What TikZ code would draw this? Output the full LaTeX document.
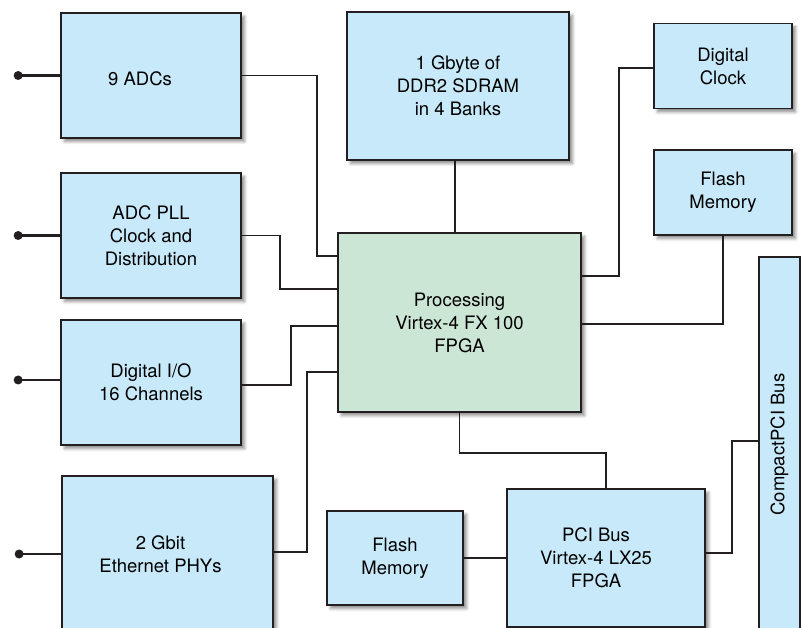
\documentclass[tikz,border=0pt]{standalone}
\usepackage{fontspec}
\setmainfont{TeX Gyre Heros}
\usetikzlibrary{shadows.blur}
\definecolor{boxblue}{HTML}{C7E9F9}
\definecolor{boxgreen}{HTML}{CCE6D6}
\definecolor{edge}{HTML}{231F20}
\tikzstyle{caption} = [align=center,
                       font=\fontsize{18.5}{23}\selectfont]
\tikzstyle{block} = [rectangle,
                     caption,
                     draw=edge,
                     line width=1.7pt,
                     fill=boxblue,
                     inner sep=0pt,
                     blur shadow={shadow xshift=3.5pt, shadow yshift=-3.5pt,
                                  shadow blur radius=3pt, shadow opacity=45}]
\tikzstyle{fpga} = [block,
                    fill=boxgreen]
\tikzstyle{wire} = [draw=edge,
                    line width=1.6pt]
\tikzstyle{bus} = [draw=edge,
                   line width=2.8pt]

\begin{document}
\begin{tikzpicture}[x=1pt, y=-1pt]
    \useasboundingbox (0,0) rectangle (801,628);

    \node (adc)    [block, minimum width=180pt, minimum height=125pt,
                    label={[caption, xshift=-11pt, yshift=-3pt]center:9 ADCs}]
                   at (151,75.5)  {};
    \node (pll)    [block, minimum width=180pt, minimum height=125pt] at (151,235.5) {ADC PLL\\Clock and\\Distribution};
    \node (dio)    [block, minimum width=180pt, minimum height=125pt] at (151,382.5) {Digital I/O\\16 Channels};
    \node (eth)    [block, minimum width=211pt, minimum height=156pt,
                    label={[caption, xshift=-7pt]center:2 Gbit\\Ethernet PHYs}]
                   at (167.5,554) {};
    \node (ddr)    [block, minimum width=222pt, minimum height=148pt] at (458,86)    {1 Gbyte of\\DDR2 SDRAM\\in 4 Banks};
    \node (proc)   [fpga,  minimum width=243pt, minimum height=179pt] at (459.5,322.5) {Processing\\Virtex-4 FX 100\\FPGA};
    \node (dclk)   [block, minimum width=138pt, minimum height=85pt]  at (723,66)    {Digital\\Clock};
    \node (flash1) [block, minimum width=138pt, minimum height=85pt]  at (723,192.5) {Flash\\Memory};
    \node (flash2) [block, minimum width=136pt, minimum height=94pt]  at (395,558)   {Flash\\Memory};
    \node (pci)    [block, minimum width=198pt, minimum height=138pt,
                    label={[caption, xshift=-10pt]center:PCI Bus\\Virtex-4 LX25\\FPGA}]
                   at (606,558) {};
    \node (cpci)   [block, minimum width=41pt,  minimum height=375pt,
                    label={[caption, rotate=90]center:CompactPCI Bus}]
                   at (779.5,444.5) {};

    % inputs on the left
    \draw [bus] (adc.west) -- ++(-42,0) coordinate (in1);
    \draw [bus] (pll.west) -- ++(-42,0) coordinate (in2);
    \draw [bus] ([yshift=2.5pt]dio.west) -- ++(-42,0) coordinate (in3);
    \draw [bus] (eth.west) -- ++(-42,0) coordinate (in4);
    \fill [edge] (in1) circle (4.5pt);
    \fill [edge] (in2) circle (4.5pt);
    \fill [edge] (in3) circle (4.5pt);
    \fill [edge] (in4) circle (4.5pt);

    % links into the processing FPGA
    \draw [wire] (adc.east) -- ++(75,0) |- ([yshift=-24pt]proc.north west);
    \draw [wire] (pll.east) -- ++(38,0) |- ([yshift=-57pt]proc.north west);
    \draw [wire] ([yshift=-2.5pt]dio.east) -- ++(49,0) |- ([yshift=-94pt]proc.north west);
    \draw [wire] ([yshift=2pt]eth.east) -- ++(33,0) |- ([yshift=-140pt]proc.north west);
    \draw [bus]  ([xshift=-3pt]ddr.south) -- ([xshift=-3pt]ddr.south |- proc.north);

    \draw [wire] ([yshift=-44pt]proc.north east) -- ++(37,0) |- ([yshift=-2pt]dclk.west);
    \draw [wire] (flash1.south) |- ([yshift=-92pt]proc.north east);
    \draw [wire] (proc.south) -- ++(0,40) -| (pci.north);

    \draw [bus]  (flash2.east) -- (pci.west);
    \draw [wire] ([yshift=5pt]pci.east) -- ++(26,0) |- ([yshift=-185pt]cpci.north west);

\end{tikzpicture}
\end{document}
